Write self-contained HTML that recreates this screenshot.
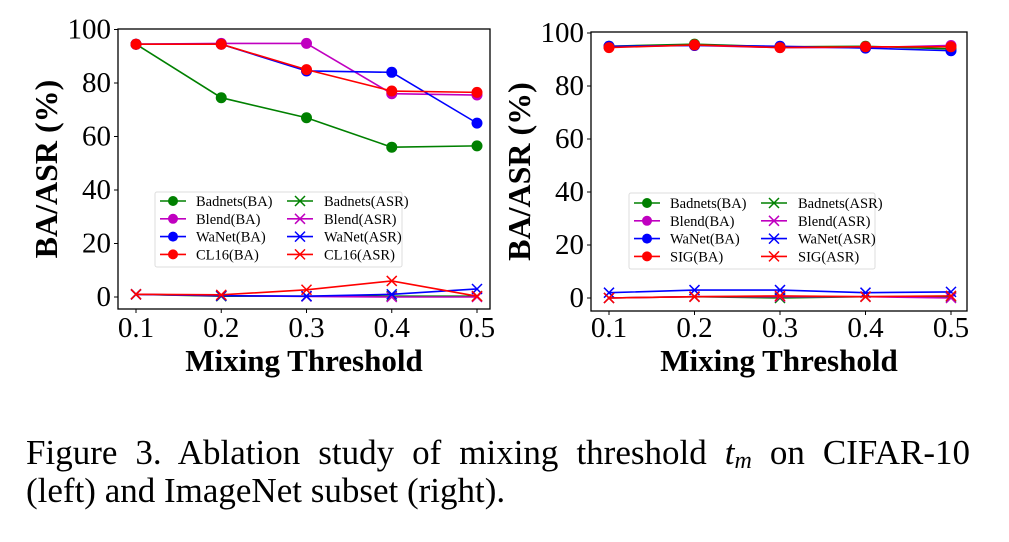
<!DOCTYPE html>
<html><head><meta charset="utf-8"><style>
body{margin:0;background:#fff;width:1009px;height:542px;overflow:hidden;position:relative}
svg{display:block;font-family:"Liberation Serif",serif}
.cap{position:absolute;left:26px;width:944px;font-family:"Liberation Serif",serif;font-size:35px;line-height:38px;white-space:nowrap}
#c1{top:434px;text-align:justify;text-align-last:justify;white-space:normal}
#c2{top:472px}
</style></head><body>
<svg id="fig" width="1009" height="542" viewBox="0 0 1009 542"></svg>
<div id="c1" class="cap">Figure 3. Ablation study of mixing threshold <i>t</i><sub style="font-size:24px;font-style:italic;vertical-align:-4px">m</sub> on CIFAR-10</div>
<div id="c2" class="cap">(left) and ImageNet subset (right).</div>
<script>
const xCats=[0.1,0.2,0.3,0.4,0.5];
const yTicks=[0,20,40,60,80,100];
const leftNames=["Badnets","Blend","WaNet","CL16"];
const leftBA=[[94.5,74.5,67,56,56.5],[94.5,94.8,94.8,76,75.5],[94.5,94.5,84.5,84,65],[94.5,94.5,85,77,76.5]];
const leftASR=[[1,0.3,0.3,0.3,0.3],[1,0.5,0.2,0,0],[1,0.5,0.3,1,3],[1,0.8,2.7,6,0.3]];
const rightNames=["Badnets","Blend","WaNet","SIG"];
const rightBA=[[95,95.8,94.8,95,94],[94.8,95.3,94.5,94.5,95.3],[95,95.3,95,94.3,93.3],[94.5,95.5,94.5,94.8,94.8]];
const rightASR=[[0,0.5,0,0.5,0.5],[0,0.5,0.5,0.5,0],[2,3,3,2,2.3],[0,0.5,0.8,0.5,0.8]];
const colors=["#008000","#c000c0","#0000ff","#ff0000"];
const NS="http://www.w3.org/2000/svg";
const svg=document.getElementById('fig');
function mk(tag,attrs,parent){const e=document.createElementNS(NS,tag);for(const k in attrs)e.setAttribute(k,attrs[k]);(parent||svg).appendChild(e);return e;}
function panel(cfg,names,ba,asr,id){
  const g=mk('g',{});
  
  
  const sx=v=>cfg.x0+(v-0.1)/(0.4)*(cfg.x1-cfg.x0);
  const sy=v=>cfg.y0-v/20*cfg.per;
  const fr=mk('rect',{x:cfg.L,y:cfg.T,width:cfg.R-cfg.L,height:cfg.B-cfg.T,fill:'none',stroke:'#000','stroke-width':1.3},g);
  
  
  yTicks.forEach(t=>{
    mk('line',{x1:cfg.L-4,x2:cfg.L,y1:sy(t),y2:sy(t),stroke:'#000'},g);
    const tx=mk('text',{x:cfg.L-7,y:sy(t)+9,'font-size':29,'text-anchor':'end'},g);
    tx.textContent=t;
    
    
  });
  xCats.forEach(t=>{
    mk('line',{x1:sx(t),x2:sx(t),y1:cfg.B,y2:cfg.B+4,stroke:'#000'},g);
    const tx=mk('text',{x:sx(t),y:337,'font-size':29,'text-anchor':'middle'},g);
    tx.textContent=t.toFixed(1);
    
    
  });
  const xl=mk('text',{x:(cfg.L+cfg.R)/2,y:371,'font-size':31,'font-weight':'bold','text-anchor':'middle'},g);
  xl.textContent='Mixing Threshold';
  
  
  const yl=mk('text',{x:0,y:0,'font-size':32,'font-weight':'bold','text-anchor':'middle',transform:`translate(${cfg.L-61},${(cfg.T+cfg.B)/2}) rotate(-90)`},g);
  yl.textContent='BA/ASR (%)';
  
  
  function cross(x,y,c,p){mk('path',{d:`M${x-5},${y-5}L${x+5},${y+5}M${x-5},${y+5}L${x+5},${y-5}`,stroke:c,'stroke-width':1.5},p);}
  asr.forEach((s,i)=>{
    const pl=mk('polyline',{points:s.map((v,j)=>sx(xCats[j])+','+sy(v)).join(' '),fill:'none',stroke:colors[i],'stroke-width':1.6},g);
    
    
    s.forEach((v,j)=>cross(sx(xCats[j]),sy(v),colors[i],g));
  });
  ba.forEach((s,i)=>{
    const pl=mk('polyline',{points:s.map((v,j)=>sx(xCats[j])+','+sy(v)).join(' '),fill:'none',stroke:colors[i],'stroke-width':1.6},g);
    
    
    s.forEach((v,j)=>{const c=mk('circle',{cx:sx(xCats[j]),cy:sy(v),r:5.5,fill:colors[i]},g);
      
      });
  });
  const lg=mk('g',{},g);
  
  
  const L=cfg.leg;
  mk('rect',{x:L.x,y:L.y,width:L.w,height:L.h,fill:'#fff','fill-opacity':0.85,stroke:'#ddd',rx:2},lg);
  names.forEach((n,i)=>{
    const y=L.r0+i*17.8;
    mk('line',{x1:L.c1,x2:L.c1+26,y1:y,y2:y,stroke:colors[i],'stroke-width':1.6},lg);
    mk('circle',{cx:L.c1+13,cy:y,r:5,fill:colors[i]},lg);
    const t1=mk('text',{x:L.c1+36,y:y+5,'font-size':14.5},lg);t1.textContent=n+'(BA)';
    
    
    mk('line',{x1:L.c2,x2:L.c2+26,y1:y,y2:y,stroke:colors[i],'stroke-width':1.6},lg);
    cross(L.c2+13,y,colors[i],lg);
    const t2=mk('text',{x:L.c2+37,y:y+5,'font-size':14.5},lg);t2.textContent=n+'(ASR)';
    
    
  });
}
panel({L:118,R:490,T:29,B:309,x0:136,x1:477,y0:297,per:53.5,
  leg:{x:155,y:192,w:247,h:75,r0:201,c1:160,c2:287}},leftNames,leftBA,leftASR,'left');
panel({L:591,R:967,T:32,B:311,x0:609,x1:951,y0:298,per:53,
  leg:{x:629,y:193,w:246,h:76,r0:203,c1:634,c2:761}},rightNames,rightBA,rightASR,'right');
</script>
</body></html>
